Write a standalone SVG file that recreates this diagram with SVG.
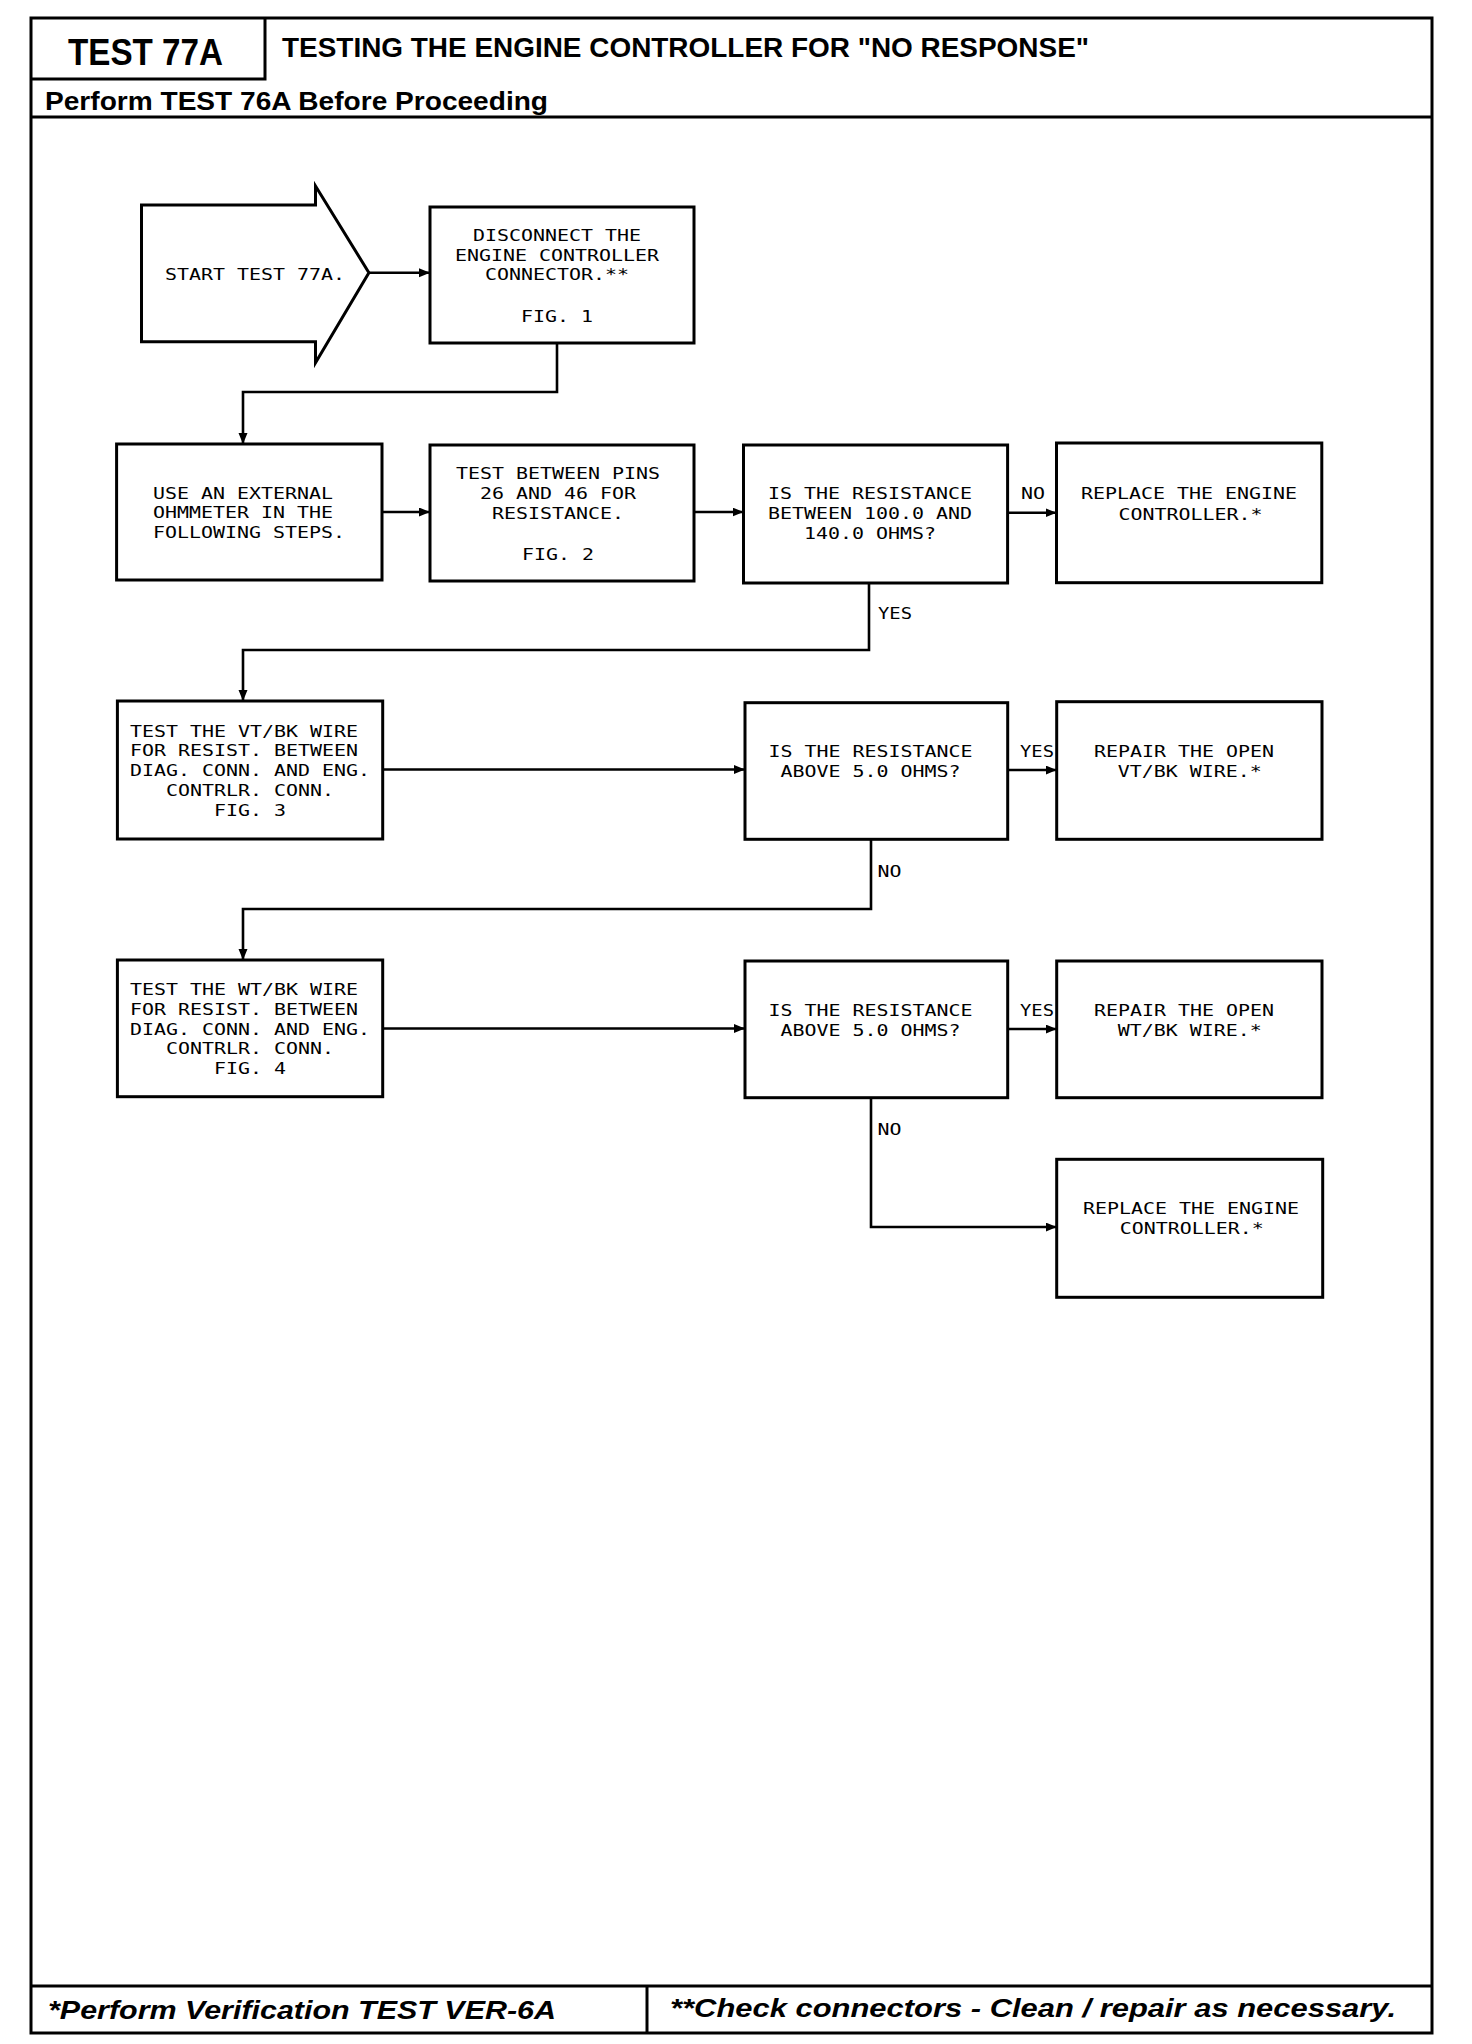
<svg xmlns="http://www.w3.org/2000/svg" width="1472" height="2044" viewBox="0 0 1472 2044">
<style>
.frame{fill:none;stroke:#000;stroke-width:3}
.box{fill:#fff;stroke:#000;stroke-width:3}
.conn{fill:none;stroke:#000;stroke-width:2.6}
.mono{font-family:"DejaVu Sans Mono","Liberation Mono",monospace;font-size:16.5px;fill:#000}
.c{text-anchor:middle}
.hdr{font-family:"Liberation Sans",Arial,sans-serif;font-weight:bold;fill:#000}
.ftr{font-family:"Liberation Sans",Arial,sans-serif;font-weight:bold;font-style:italic;fill:#000;font-size:26px}
</style>
<defs>
<marker id="ah" markerUnits="userSpaceOnUse" markerWidth="12" markerHeight="10" refX="11" refY="4.5" orient="auto">
<path d="M0,0 L11,4.5 L0,9 z" fill="#000"/>
</marker>
</defs>
<rect x="0" y="0" width="1472" height="2044" fill="#fff"/>

<g id="frame">
<rect class="frame" x="31" y="18" width="1401" height="2015"/>
<path class="frame" d="M265,18 V79 H31"/>
<line class="frame" x1="31" y1="117" x2="1432" y2="117"/>
<line class="frame" x1="31" y1="1986" x2="1432" y2="1986"/>
<line class="frame" x1="647" y1="1986" x2="647" y2="2033"/>
<text class="hdr" x="68" y="65" font-size="36" textLength="155" lengthAdjust="spacingAndGlyphs">TEST 77A</text>
<text class="hdr" x="282" y="57" font-size="27" textLength="807" lengthAdjust="spacingAndGlyphs">TESTING THE ENGINE CONTROLLER FOR "NO RESPONSE"</text>
<text class="hdr" x="45" y="110" font-size="25" textLength="503" lengthAdjust="spacingAndGlyphs">Perform TEST 76A Before Proceeding</text>
<text class="ftr" x="48" y="2019" textLength="508" lengthAdjust="spacingAndGlyphs">*Perform Verification TEST VER-6A</text>
<text class="ftr" x="670" y="2017" textLength="726" lengthAdjust="spacingAndGlyphs">**Check connectors - Clean / repair as necessary.</text>
</g>

<g id="connectors">
<path class="conn" d="M368.9,272.7 H430" marker-end="url(#ah)"/>
<path class="conn" d="M557,343 V392 H243 V444" marker-end="url(#ah)"/>
<path class="conn" d="M382,512 H430" marker-end="url(#ah)"/>
<path class="conn" d="M694,512 H743.5" marker-end="url(#ah)"/>
<path class="conn" d="M1007.6,512.7 H1056.5" marker-end="url(#ah)"/>
<path class="conn" d="M869,583 V650 H243 V701" marker-end="url(#ah)"/>
<path class="conn" d="M382.7,769.5 H745" marker-end="url(#ah)"/>
<path class="conn" d="M1007.7,770 H1056.7" marker-end="url(#ah)"/>
<path class="conn" d="M871,839.3 V909 H243 V960" marker-end="url(#ah)"/>
<path class="conn" d="M382.7,1028.5 H745" marker-end="url(#ah)"/>
<path class="conn" d="M1007.7,1029 H1056.7" marker-end="url(#ah)"/>
<path class="conn" d="M871,1097.7 V1227 H1056.7" marker-end="url(#ah)"/>
<text class="mono" x="1021" y="499" textLength="24" lengthAdjust="spacingAndGlyphs">NO</text>
<text class="mono" x="878" y="619" textLength="34" lengthAdjust="spacingAndGlyphs">YES</text>
<text class="mono" x="1020" y="757" textLength="34" lengthAdjust="spacingAndGlyphs">YES</text>
<text class="mono" x="877.5" y="877" textLength="24" lengthAdjust="spacingAndGlyphs">NO</text>
<text class="mono" x="1020" y="1016" textLength="34" lengthAdjust="spacingAndGlyphs">YES</text>
<text class="mono" x="877.5" y="1135" textLength="24" lengthAdjust="spacingAndGlyphs">NO</text>
</g>

<g id="start">
<polygon class="box" points="141.5,205 315.5,205 315.5,186 368.9,272.7 315.5,362.7 315.5,341.7 141.5,341.7"/>
<text class="mono" x="165" y="280" textLength="180" lengthAdjust="spacingAndGlyphs">START TEST 77A.</text>
</g>

<g id="disconnect">
<rect class="box" x="430" y="207" width="264" height="136"/>
<text class="mono c" x="557" y="241" textLength="168" lengthAdjust="spacingAndGlyphs">DISCONNECT THE</text>
<text class="mono c" x="557" y="260.5" textLength="204" lengthAdjust="spacingAndGlyphs">ENGINE CONTROLLER</text>
<text class="mono c" x="557" y="280" textLength="144" lengthAdjust="spacingAndGlyphs">CONNECTOR.**</text>
<text class="mono c" x="557" y="322" textLength="72" lengthAdjust="spacingAndGlyphs">FIG. 1</text>
</g>

<g id="use-ohmmeter">
<rect class="box" x="116.6" y="444" width="265.4" height="136"/>
<text class="mono" x="153" y="498.5" textLength="180" lengthAdjust="spacingAndGlyphs">USE AN EXTERNAL</text>
<text class="mono" x="153" y="518" textLength="180" lengthAdjust="spacingAndGlyphs">OHMMETER IN THE</text>
<text class="mono" x="153" y="537.5" textLength="192" lengthAdjust="spacingAndGlyphs">FOLLOWING STEPS.</text>
</g>

<g id="test-pins">
<rect class="box" x="430" y="445" width="264" height="136"/>
<text class="mono c" x="558" y="478.5" textLength="204" lengthAdjust="spacingAndGlyphs">TEST BETWEEN PINS</text>
<text class="mono c" x="558" y="498.5" textLength="156" lengthAdjust="spacingAndGlyphs">26 AND 46 FOR</text>
<text class="mono c" x="558" y="518.5" textLength="132" lengthAdjust="spacingAndGlyphs">RESISTANCE.</text>
<text class="mono c" x="558" y="560" textLength="72" lengthAdjust="spacingAndGlyphs">FIG. 2</text>
</g>

<g id="is-100-140">
<rect class="box" x="743.5" y="445" width="264.1" height="138"/>
<text class="mono c" x="870" y="499" textLength="204" lengthAdjust="spacingAndGlyphs">IS THE RESISTANCE</text>
<text class="mono c" x="870" y="519" textLength="204" lengthAdjust="spacingAndGlyphs">BETWEEN 100.0 AND</text>
<text class="mono c" x="870" y="538.5" textLength="132" lengthAdjust="spacingAndGlyphs">140.0 OHMS?</text>
</g>

<g id="replace-1">
<rect class="box" x="1056.5" y="443" width="265.3" height="139.7"/>
<text class="mono" x="1081" y="499" textLength="216" lengthAdjust="spacingAndGlyphs">REPLACE THE ENGINE</text>
<text class="mono" x="1118.6" y="519.5" textLength="144" lengthAdjust="spacingAndGlyphs">CONTROLLER.*</text>
</g>

<g id="test-vtbk">
<rect class="box" x="117.4" y="701" width="265.3" height="138"/>
<text class="mono" x="130" y="736.5" textLength="228" lengthAdjust="spacingAndGlyphs">TEST THE VT/BK WIRE</text>
<text class="mono" x="130" y="756" textLength="228" lengthAdjust="spacingAndGlyphs">FOR RESIST. BETWEEN</text>
<text class="mono" x="130" y="776" textLength="240" lengthAdjust="spacingAndGlyphs">DIAG. CONN. AND ENG.</text>
<text class="mono" x="166" y="796" textLength="168" lengthAdjust="spacingAndGlyphs">CONTRLR. CONN.</text>
<text class="mono" x="214" y="816" textLength="72" lengthAdjust="spacingAndGlyphs">FIG. 3</text>
</g>

<g id="is-above-1">
<rect class="box" x="745" y="702.7" width="262.7" height="136.6"/>
<text class="mono c" x="870.5" y="757" textLength="204" lengthAdjust="spacingAndGlyphs">IS THE RESISTANCE</text>
<text class="mono c" x="870.5" y="777" textLength="180" lengthAdjust="spacingAndGlyphs">ABOVE 5.0 OHMS?</text>
</g>

<g id="repair-vtbk">
<rect class="box" x="1056.7" y="701.7" width="265.3" height="137.6"/>
<text class="mono" x="1094" y="757" textLength="180" lengthAdjust="spacingAndGlyphs">REPAIR THE OPEN</text>
<text class="mono" x="1117.8" y="777" textLength="144" lengthAdjust="spacingAndGlyphs">VT/BK WIRE.*</text>
</g>

<g id="test-wtbk">
<rect class="box" x="117.4" y="960" width="265.3" height="136.7"/>
<text class="mono" x="130" y="995" textLength="228" lengthAdjust="spacingAndGlyphs">TEST THE WT/BK WIRE</text>
<text class="mono" x="130" y="1015" textLength="228" lengthAdjust="spacingAndGlyphs">FOR RESIST. BETWEEN</text>
<text class="mono" x="130" y="1034.5" textLength="240" lengthAdjust="spacingAndGlyphs">DIAG. CONN. AND ENG.</text>
<text class="mono" x="166" y="1054" textLength="168" lengthAdjust="spacingAndGlyphs">CONTRLR. CONN.</text>
<text class="mono" x="214" y="1074" textLength="72" lengthAdjust="spacingAndGlyphs">FIG. 4</text>
</g>

<g id="is-above-2">
<rect class="box" x="745" y="961" width="262.7" height="136.7"/>
<text class="mono c" x="870.5" y="1016" textLength="204" lengthAdjust="spacingAndGlyphs">IS THE RESISTANCE</text>
<text class="mono c" x="870.5" y="1035.5" textLength="180" lengthAdjust="spacingAndGlyphs">ABOVE 5.0 OHMS?</text>
</g>

<g id="repair-wtbk">
<rect class="box" x="1056.7" y="961" width="265.3" height="136.7"/>
<text class="mono" x="1094" y="1016" textLength="180" lengthAdjust="spacingAndGlyphs">REPAIR THE OPEN</text>
<text class="mono" x="1117.8" y="1035.5" textLength="144" lengthAdjust="spacingAndGlyphs">WT/BK WIRE.*</text>
</g>

<g id="replace-2">
<rect class="box" x="1056.7" y="1159.3" width="266" height="138"/>
<text class="mono" x="1083" y="1214" textLength="216" lengthAdjust="spacingAndGlyphs">REPLACE THE ENGINE</text>
<text class="mono" x="1119.8" y="1234" textLength="144" lengthAdjust="spacingAndGlyphs">CONTROLLER.*</text>
</g>
</svg>
